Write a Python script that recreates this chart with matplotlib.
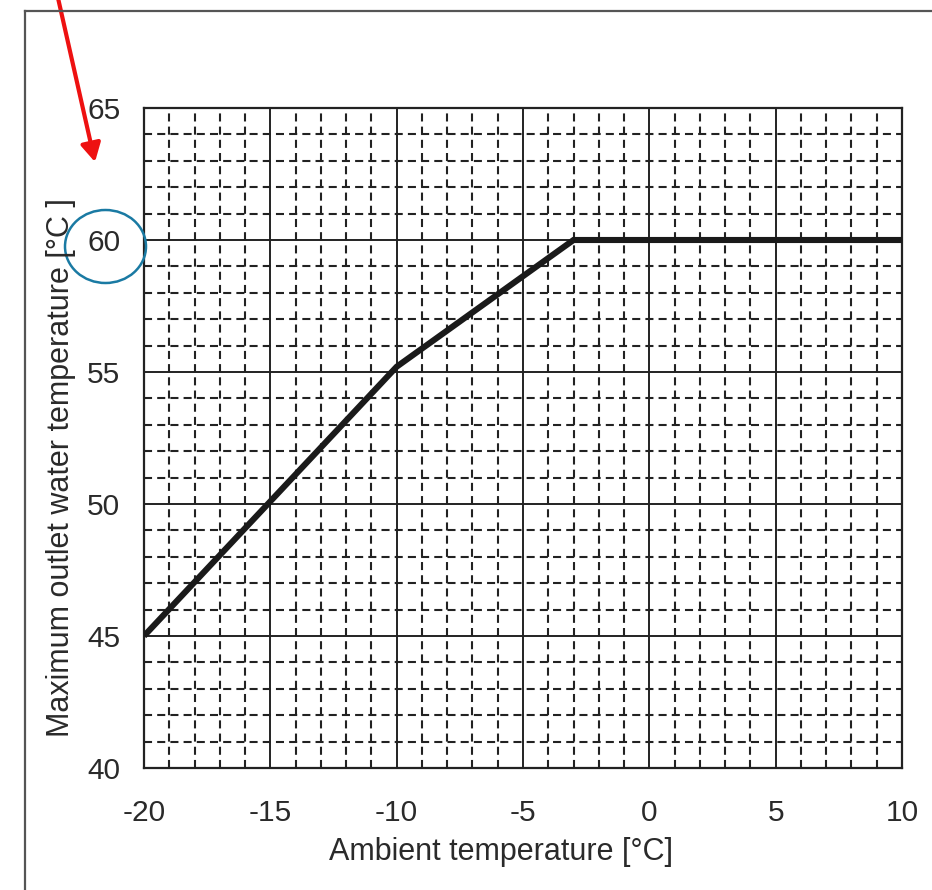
import numpy as np
import matplotlib
matplotlib.use('Agg')
import matplotlib.pyplot as plt
from matplotlib.lines import Line2D
from matplotlib.patches import Ellipse

# data
ambient = [-20, -10, -3, 10]
max_outlet = [45, 55.2, 60, 60]
x_ticks = [-20, -15, -10, -5, 0, 5, 10]
y_ticks = [40, 45, 50, 55, 60, 65]

W, H = 932, 890
plt.rcParams['font.family'] = ['Liberation Sans', 'DejaVu Sans']
plt.rcParams['lines.scale_dashes'] = False
plt.rcParams['axes.unicode_minus'] = False

fig = plt.figure(figsize=(W / 100, H / 100), dpi=100)
ax = fig.add_axes([144 / W, 1 - 768 / H, (902 - 144) / W, (768 - 108) / H])

ax.plot(ambient, max_outlet, color='#1a1a1a', lw=4.4, solid_capstyle='butt',
        solid_joinstyle='miter', zorder=5)

ax.set_xlim(-20, 10)
ax.set_ylim(40, 65)
ax.set_xticks(x_ticks)
ax.set_yticks(y_ticks)
ax.set_xticks(np.arange(-20, 11, 1), minor=True)
ax.set_yticks(np.arange(40, 66, 1), minor=True)

ax.grid(which='major', color='#222222', lw=1.4, linestyle='-')
ax.grid(which='minor', color='#222222', lw=1.5, linestyle=(0, (5.8, 3.7)))
ax.set_axisbelow(True)
for s in ax.spines.values():
    s.set_color('#222222')
    s.set_linewidth(1.6)

ax.tick_params(which='both', length=0, labelsize=21.5, labelcolor='#2a2a2a')
ax.tick_params(axis='x', pad=22)
ax.tick_params(axis='y', pad=17)

fig.text(501 / W, 1 - 852 / H, 'Ambient temperature [°C]', fontsize=22,
         color='#2a2a2a', ha='center', va='center')
fig.text(61 / W, 1 - 468 / H, 'Maximum outlet water temperature [°C ]', fontsize=22,
         color='#2a2a2a', ha='center', va='center', rotation=90)

# page frame
fig.add_artist(Line2D([25 / W, 25 / W], [0, 1 - 11 / H], transform=fig.transFigure,
                      color='#555555', lw=1.6))
fig.add_artist(Line2D([25 / W, 1], [1 - 11 / H, 1 - 11 / H], transform=fig.transFigure,
                      color='#555555', lw=1.6))

# annotation marks
fig.add_artist(Ellipse((105.5 / W, 1 - 246.5 / H), 81 / W, 73 / H, transform=fig.transFigure,
                       fill=False, edgecolor='#1a7aa3', lw=1.8))
ax.annotate('', xy=(95, H - 162), xytext=(58, H + 2), xycoords='figure pixels',
            textcoords='figure pixels', annotation_clip=False,
            arrowprops=dict(arrowstyle='-|>,head_length=11,head_width=6', mutation_scale=1,
                            color='#ee1111', lw=3, shrinkA=0, shrinkB=0))

fig.savefig('out.png', dpi=100)
